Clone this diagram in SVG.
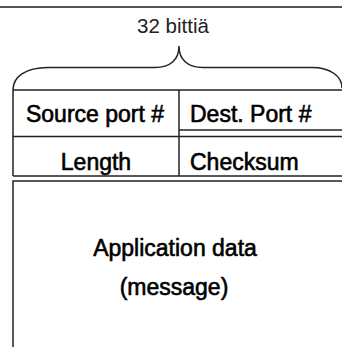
<svg xmlns="http://www.w3.org/2000/svg" width="342" height="347" viewBox="0 0 342 347">
<style>
.ln{stroke:#222;stroke-width:1.5;fill:none}
.t{font-family:"Liberation Sans",Arial,sans-serif;font-size:23px;fill:#000;stroke:#000;stroke-width:0.6}
.c{text-anchor:middle}
</style>
<rect x="0" y="0" width="342" height="347" fill="#fff"/>
<line x1="0" y1="7" x2="342" y2="7" stroke="#555" stroke-width="2"/>
<g id="label">
<text x="173" y="33" text-anchor="middle" font-family="'Liberation Sans',Arial,sans-serif" font-size="20.5" fill="#222">32 bittiä</text>
</g>
<g id="brace">
<path class="ln" d="M13,90 C13,77 25,67.5 48,67.5 L155,67.5 C170,67.5 179,60 179,46 C179,60 188,67.5 203,67.5 L312,67.5 C330,67.5 342,76 342,88"/>
</g>
<g id="connectors">
<line class="ln" x1="13" y1="90" x2="342" y2="90"/>
<line class="ln" x1="179" y1="130" x2="342" y2="130"/>
<line class="ln" x1="13" y1="136.5" x2="342" y2="136.5"/>
<line class="ln" x1="13" y1="176" x2="342" y2="176"/>
<line class="ln" x1="13" y1="90" x2="13" y2="176"/>
<line class="ln" x1="179" y1="90" x2="179" y2="176"/>
</g>
<g id="source-port"><text class="t c" x="95" y="122">Source port #</text></g>
<g id="dest-port"><text class="t" x="190" y="122">Dest. Port #</text></g>
<g id="length"><text class="t c" x="96" y="170">Length</text></g>
<g id="checksum"><text class="t" x="190" y="170">Checksum</text></g>
<g id="data">
<path class="ln" d="M342,181 L13,181 L13,347"/>
<text class="t c" x="175" y="256">Application data</text>
<text class="t c" x="174" y="295">(message)</text>
</g>
</svg>
